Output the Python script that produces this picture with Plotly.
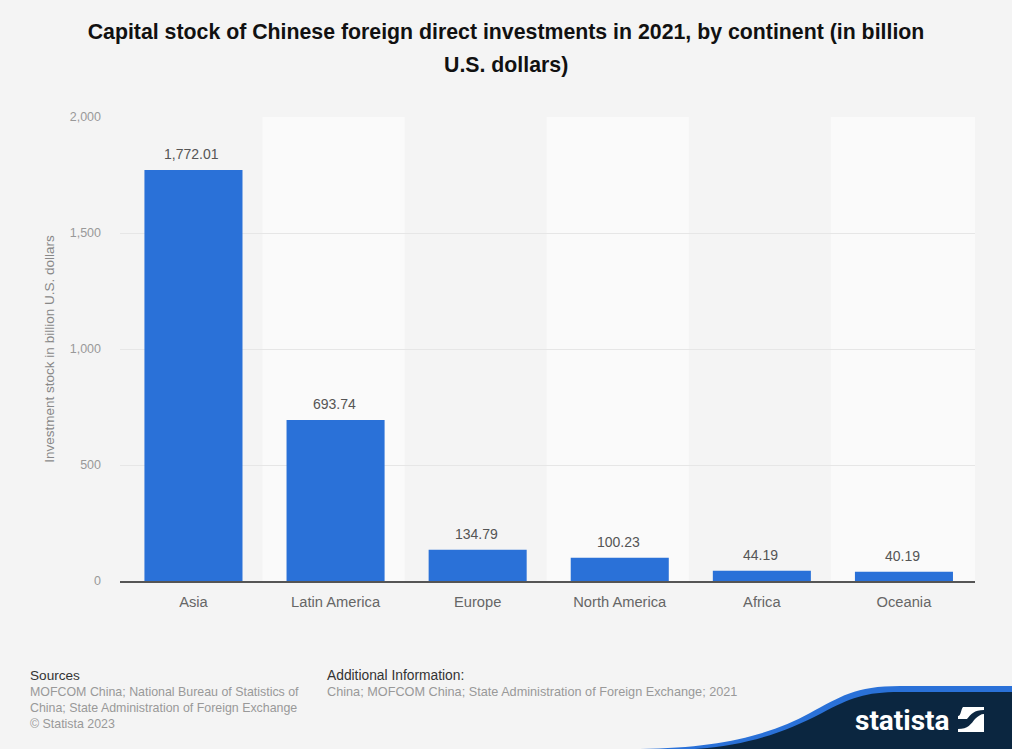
import plotly.graph_objects as go

W = 1012
H = 749
# plot area in page pixels
LEFT, RIGHT, TOP, BOTTOM = 120, 975, 117, 581

continents = ["Asia", "Latin America", "Europe", "North America", "Africa", "Oceania"]
stock = [1772.01, 693.74, 134.79, 100.23, 44.19, 40.19]
y_ticks = [0, 500, 1000, 1500, 2000]
y_labels = ["0", "500", "1,000", "1,500", "2,000"]

title_1 = "Capital stock of Chinese foreign direct investments in 2021, by continent (in billion"
title_2 = "U.S. dollars)"
sources = "MOFCOM China; National Bureau of Statistics of<br>China; State Administration of Foreign Exchange<br>© Statista 2023"
extra = "China; MOFCOM China; State Administration of Foreign Exchange; 2021"

FONT = "Liberation Sans"


def px(x):
    return (x - LEFT) / (RIGHT - LEFT)


def py(y):
    return (BOTTOM - y) / (BOTTOM - TOP)


def path(points):
    # page pixel points to an svg path in paper coordinates
    out = ""
    for p in points:
        out += p[0] + " ".join(f"{px(p[i])},{py(p[i + 1])}" for i in range(1, len(p), 2)) + " "
    return out + "Z"


def note(x, y, text, size, color, **kw):
    return dict(x=px(x), y=py(y), xref="paper", yref="paper", text=text, showarrow=False,
                xanchor="left", yanchor="top", align="left",
                font=dict(family=FONT, size=size, color=color), **kw)


trace1 = go.Bar(
    x=continents,
    y=stock,
    width=0.69,
    marker=dict(color="#2a71d8", line=dict(width=0)),
)

shapes = []
# lighter background band behind every second category
for i in (1, 3, 5):
    shapes.append(dict(type="rect", xref="x", yref="paper", x0=i - 0.514, x1=min(i + 0.486, 4.5) if i < 5 else 5.5,
                       y0=0, y1=1, fillcolor="#fafafa", line=dict(width=0), layer="below"))

# footer swoosh
shapes.append(dict(type="path", xref="paper", yref="paper", fillcolor="#2a71d8", line=dict(width=0), layer="below",
                   path=path([("M", 640, 749), ("C", 720, 748, 770, 735, 810, 713), ("C", 840, 697, 855, 686, 900, 686),
                              ("L", 1012, 686), ("L", 1012, 749)])))
shapes.append(dict(type="path", xref="paper", yref="paper", fillcolor="#0b2640", line=dict(width=0), layer="below",
                   path=path([("M", 695, 749), ("C", 750, 745, 785, 732, 822, 713), ("C", 850, 698, 865, 692, 900, 692),
                              ("L", 1012, 692), ("L", 1012, 749)])))
# logo mark
shapes.append(dict(type="path", xref="paper", yref="paper", fillcolor="#ffffff", line=dict(width=0),
                   path=path([("M", 963, 707), ("L", 984, 707), ("L", 984, 710), ("C", 974, 710, 971, 714, 967, 719),
                              ("L", 958, 719), ("L", 958, 716), ("C", 961, 716, 961, 709, 963, 707)])))
shapes.append(dict(type="path", xref="paper", yref="paper", fillcolor="#ffffff", line=dict(width=0),
                   path=path([("M", 984, 714), ("L", 984, 732), ("L", 958, 732), ("L", 958, 729),
                              ("C", 968, 729, 971, 724, 975, 719), ("C", 978, 716, 981, 714, 984, 714)])))

annotations = [
    note(28, 666, "Sources", 13.6, "#333333"),
    note(28, 683, sources, 12.4, "#999999"),
    note(325, 666, "Additional Information:", 13.8, "#333333"),
    note(325, 683, extra, 12.7, "#999999"),
    dict(x=px(952), y=py(720), xref="paper", yref="paper", text="<b>statista</b>", showarrow=False,
         xanchor="right", yanchor="middle", font=dict(family="Roboto", size=28, color="#ffffff")),
    dict(x=px(506), y=py(65), xref="paper", yref="paper", text=f"<b>{title_2}</b>", showarrow=False,
         xanchor="center", yanchor="middle", font=dict(family=FONT, size=21.3, color="#111111")),
]
# value labels sit a little higher than textposition outside would put them
for name, value in zip(continents, stock):
    annotations.append(dict(x=name, y=value, text=f"{value:,.2f}", showarrow=False, yanchor="bottom",
                            yshift=6, xshift=-1.5, font=dict(family=FONT, size=14, color="#555555")))

layout = go.Layout(
    width=W,
    height=H,
    margin=dict(l=LEFT, r=W - RIGHT, t=TOP, b=H - BOTTOM, autoexpand=False),
    paper_bgcolor="#f4f4f4",
    plot_bgcolor="#f4f4f4",
    showlegend=False,
    title=dict(text=f"<b>{title_1}</b>", x=506 / W, xanchor="center", y=1 - 32 / H, yanchor="middle",
               font=dict(family=FONT, size=21.3, color="#111111")),
    xaxis=dict(type="category", range=[-0.517, 5.5], showgrid=False, ticks="", showline=True, linecolor="#555555",
               linewidth=1.5, tickfont=dict(family=FONT, size=14.7, color="#666666"), ticklabelstandoff=7),
    yaxis=dict(range=[0, 2000], tickvals=y_ticks, ticktext=y_labels, gridcolor="#e6e6e6",
               gridwidth=1, zeroline=False, ticks="", ticklabelstandoff=18,
               tickfont=dict(family=FONT, size=12.5, color="#999999"),
               title=dict(text="Investment stock in billion U.S. dollars", standoff=11,
                          font=dict(family=FONT, size=13.5, color="#888888"))),
    shapes=shapes,
    annotations=annotations,
)

fig = go.Figure(data=[trace1], layout=layout)
fig.write_html("out.html", config=dict(displayModeBar=False),
               post_script="document.body.style.margin='0';document.body.style.background='#f4f4f4';")
